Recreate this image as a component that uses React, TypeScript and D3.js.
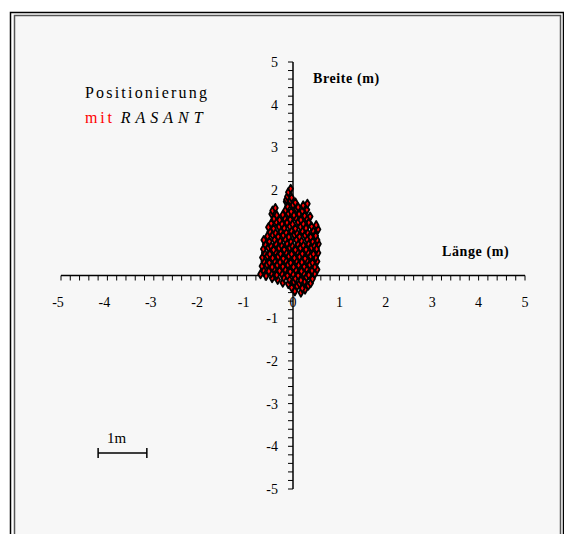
import { scaleLinear, range, symbol, symbolDiamond } from 'd3';

// axis ticks (metres)
const majorTicks = [-5, -4, -3, -2, -1, 0, 1, 2, 3, 4, 5];
const minorTicks = range(-50, 51, 2).map((v) => v / 10);

// position fixes [länge, breite] in metres
const points = [
  [0.04, -0.37], [0.17, -0.4], [0.26, -0.33],
  [-0.03, -0.28], [0.09, -0.25], [0.2, -0.3], [0.33, -0.24],
  [-0.22, -0.17], [-0.1, -0.2], [0.02, -0.15], [0.14, -0.19], [0.25, -0.14], [0.38, -0.18],
  [-0.45, -0.06], [-0.33, -0.1], [-0.2, -0.05], [-0.08, -0.09], [0.05, -0.07], [0.17, -0.11], [0.29, -0.04], [0.42, -0.08],
  [-0.7, 0.03], [-0.58, -0.01], [-0.47, 0.05], [-0.35, 0.01], [-0.24, 0.04], [-0.12, 0.0], [0.0, 0.03], [0.11, 0.0], [0.23, 0.05], [0.34, 0.01], [0.47, 0.04],
  [-0.64, 0.13], [-0.52, 0.1], [-0.41, 0.15], [-0.29, 0.11], [-0.17, 0.14], [-0.06, 0.09], [0.06, 0.13], [0.18, 0.1], [0.29, 0.15], [0.41, 0.11], [0.52, 0.14],
  [-0.67, 0.22], [-0.56, 0.25], [-0.45, 0.2], [-0.34, 0.24], [-0.22, 0.21], [-0.11, 0.25], [0.01, 0.2], [0.12, 0.24], [0.24, 0.21], [0.36, 0.25], [0.47, 0.2],
  [-0.63, 0.33], [-0.51, 0.3], [-0.4, 0.34], [-0.28, 0.31], [-0.16, 0.35], [-0.05, 0.3], [0.07, 0.34], [0.19, 0.31], [0.3, 0.35], [0.42, 0.3], [0.52, 0.33],
  [-0.66, 0.42], [-0.55, 0.45], [-0.44, 0.41], [-0.32, 0.44], [-0.21, 0.4], [-0.09, 0.45], [0.03, 0.41], [0.14, 0.44], [0.26, 0.4], [0.38, 0.45], [0.49, 0.42],
  [-0.62, 0.53], [-0.5, 0.5], [-0.38, 0.55], [-0.27, 0.51], [-0.15, 0.54], [-0.03, 0.5], [0.09, 0.55], [0.2, 0.51], [0.32, 0.54], [0.44, 0.5], [0.54, 0.53],
  [-0.64, 0.62], [-0.53, 0.65], [-0.42, 0.6], [-0.3, 0.64], [-0.19, 0.61], [-0.07, 0.65], [0.05, 0.6], [0.16, 0.64], [0.28, 0.61], [0.4, 0.65], [0.51, 0.62],
  [-0.6, 0.73], [-0.48, 0.7], [-0.37, 0.74], [-0.25, 0.71], [-0.13, 0.75], [-0.02, 0.7], [0.1, 0.74], [0.22, 0.71], [0.33, 0.75], [0.45, 0.71], [0.55, 0.74],
  [-0.63, 0.83], [-0.51, 0.8], [-0.4, 0.84], [-0.28, 0.81], [-0.17, 0.85], [-0.05, 0.8], [0.07, 0.84], [0.18, 0.81], [0.3, 0.85], [0.42, 0.8], [0.52, 0.83],
  [-0.55, 0.92], [-0.44, 0.95], [-0.32, 0.91], [-0.21, 0.94], [-0.09, 0.9], [0.03, 0.95], [0.14, 0.91], [0.26, 0.94], [0.38, 0.9], [0.49, 0.93],
  [-0.5, 1.03], [-0.38, 1.0], [-0.27, 1.04], [-0.15, 1.01], [-0.04, 1.05], [0.08, 1.0], [0.2, 1.04], [0.31, 1.01], [0.43, 1.05], [0.54, 1.08],
  [-0.53, 1.13], [-0.42, 1.1], [-0.3, 1.14], [-0.19, 1.11], [-0.07, 1.15], [0.05, 1.1], [0.16, 1.14], [0.28, 1.11], [0.4, 1.15], [0.5, 1.18],
  [-0.47, 1.22], [-0.36, 1.25], [-0.24, 1.21], [-0.13, 1.24], [-0.01, 1.2], [0.11, 1.25], [0.22, 1.21], [0.34, 1.24],
  [-0.41, 1.33], [-0.29, 1.3], [-0.18, 1.34], [-0.06, 1.31], [0.06, 1.35], [0.17, 1.3], [0.29, 1.34], [0.37, 1.38],
  [-0.46, 1.44], [-0.35, 1.41], [-0.22, 1.42], [-0.1, 1.45], [0.02, 1.41], [0.13, 1.44], [0.25, 1.4],
  [-0.44, 1.52], [-0.38, 1.58], [-0.16, 1.53], [-0.04, 1.5], [0.08, 1.55], [0.2, 1.51], [0.3, 1.54],
  [-0.12, 1.62], [0.0, 1.65], [0.11, 1.6], [0.22, 1.64], [0.31, 1.68],
  [-0.15, 1.73], [-0.06, 1.75], [0.05, 1.71],
  [-0.14, 1.78], [-0.12, 1.85], [-0.03, 1.82], [-0.1, 1.95], [-0.05, 2.03],
];

const serif = '"Liberation Serif", "Times New Roman", serif';

const App = () => {
  const width = 564;
  const height = 534;

  const x = scaleLinear().domain([-5, 5]).range([61, 525]);
  const y = scaleLinear().domain([-5, 5]).range([489, 62]);
  const x0 = x(0);
  const y0 = y(0);

  const marker = symbol().type(symbolDiamond).size(20)();

  return (
    <svg
      width={width}
      height={height}
      style={{ position: 'absolute', left: 0, top: 0, background: '#fff' }}
      fontFamily={serif}
    >
      {/* frame */}
      <rect x={10.5} y={12.5} width={553} height={540} fill="none" stroke="#000" strokeWidth={1.5} />
      <rect x={14.5} y={15.5} width={546} height={540} fill="#f7f7f7" stroke="#555" strokeWidth={1.5} />

      {/* title */}
      <text x={85} y={98} fontSize={16} fill="#000" letterSpacing={2.2}>
        Positionierung
      </text>
      <text x={85} y={123} fontSize={16}>
        <tspan fill="#ff0000" letterSpacing={2.8}>mit</tspan>
        <tspan fill="#000" fontStyle="italic" letterSpacing={5} dx={6}>RASANT</tspan>
      </text>

      {/* x axis */}
      <line x1={x(-5)} x2={x(5)} y1={y0} y2={y0} stroke="#000" strokeWidth={1.5} />
      {minorTicks.map((t) => (
        <line key={`xt${t}`} x1={x(t)} x2={x(t)} y1={y0} y2={y0 + 5} stroke="#000" strokeWidth={1} />
      ))}
      {majorTicks.map((t) => (
        <text key={`xl${t}`} x={x(t) + (t < 0 ? -3 : 0)} y={y0 + 31} fontSize={14} textAnchor="middle">
          {t}
        </text>
      ))}

      {/* y axis */}
      <line x1={x0} x2={x0} y1={y(5)} y2={y(-5)} stroke="#000" strokeWidth={1.5} />
      {minorTicks.map((t) => (
        <line key={`yt${t}`} x1={x0 - 5} x2={x0} y1={y(t)} y2={y(t)} stroke="#000" strokeWidth={1} />
      ))}
      {majorTicks
        .filter((t) => t !== 0)
        .map((t) => (
          <text key={`yl${t}`} x={x0 - 15} y={y(t) + 5} fontSize={14} textAnchor="end">
            {t}
          </text>
        ))}

      {/* axis titles */}
      <text x={313} y={83} fontSize={14} fontWeight="bold" letterSpacing={0.6}>
        Breite (m)
      </text>
      <text x={442} y={256} fontSize={14} fontWeight="bold" letterSpacing={0.6}>
        Länge (m)
      </text>

      {/* scale bar: 1 m */}
      <g stroke="#000" strokeWidth={1.5}>
        <line x1={x(-4.2)} x2={x(-3.15)} y1={453} y2={453} />
        <line x1={x(-4.2)} x2={x(-4.2)} y1={448} y2={458} />
        <line x1={x(-3.15)} x2={x(-3.15)} y1={448} y2={458} />
      </g>
      <text x={107} y={443} fontSize={15}>
        1m
      </text>

      {/* position fixes */}
      <g>
        {points.map(([px, py], i) => (
          <path
            key={i}
            d={marker}
            transform={`translate(${x(px)},${y(py)})`}
            fill="#ff0000"
            stroke="#000"
            strokeWidth={1.8}
            strokeLinejoin="round"
          />
        ))}
      </g>
    </svg>
  );
};

export default App;
